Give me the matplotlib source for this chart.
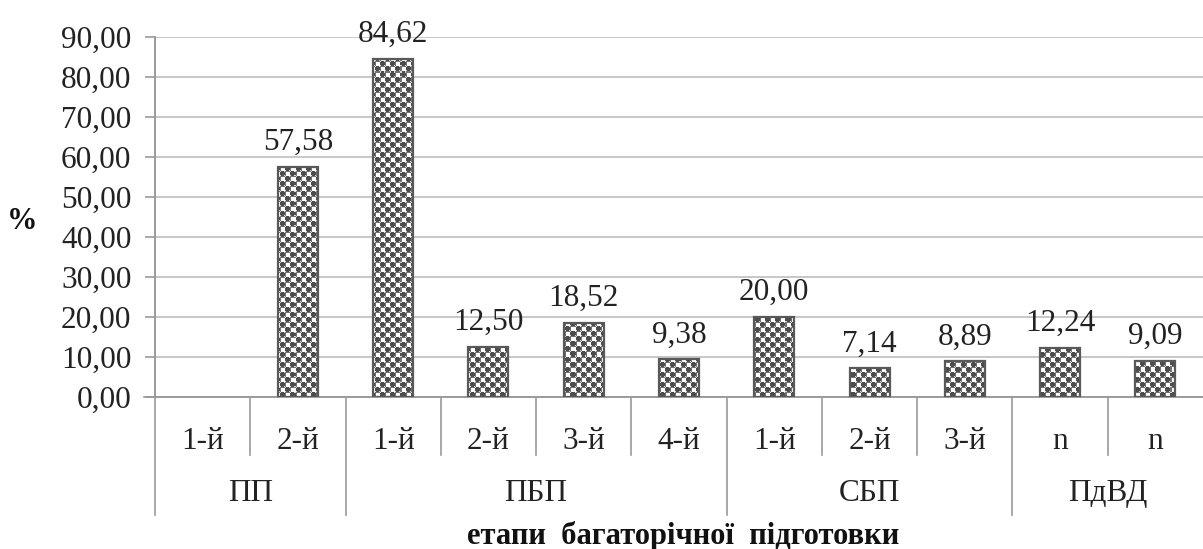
import numpy as np
import matplotlib
matplotlib.use("Agg")
import matplotlib.pyplot as plt
from matplotlib.transforms import blended_transform_factory

# Data
groups = ["ПП", "ПБП", "СБП", "ПдВД"]
group_sizes = [2, 4, 3, 2]
stages = ["1-й", "2-й", "1-й", "2-й", "3-й", "4-й", "1-й", "2-й", "3-й", "n", "n"]
values = [0.00, 57.58, 84.62, 12.50, 18.52, 9.38, 20.00, 7.14, 8.89, 12.24, 9.09]
yticks = [0, 10, 20, 30, 40, 50, 60, 70, 80, 90]

plt.rcParams["font.family"] = ["Liberation Serif", "DejaVu Serif"]

W, H, DPI = 1203, 549, 100
FS = 22.5
fig = plt.figure(figsize=(W / DPI, H / DPI), dpi=DPI)
ax = fig.add_axes([0.1288, 0.2769, 0.8712, 0.6557])

n = len(values)
x = np.arange(n)
ax.set_xlim(-0.5, n - 0.5)
ax.set_ylim(0, 90)

edge = "#595959"
bars = ax.bar(x, values, width=0.42, facecolor="none", edgecolor=edge,
              linewidth=1.6, zorder=3)
for b, v in zip(bars, values):
    if v == 0:
        b.set_linewidth(0)

# checkerboard-with-dots fill pattern
tile = np.ones((10, 10))
yy, xx = np.mgrid[0:5, 0:5]
dot = ((yy - 2) ** 2 + (xx - 2) ** 2) <= 5
q = np.where(dot, 0.30, 0.85)
box = np.ones((5, 5))
box[0, :] = box[:, 0] = 0.45
tile[:5, :5] = q
tile[5:, 5:] = q
tile[:5, 5:] = box
tile[5:, :5] = box
ax_px_w = int(round(0.8712 * W))
ax_px_h = int(round(0.6557 * H))
pattern = np.tile(tile, (ax_px_h // 10 + 2, ax_px_w // 10 + 2))[:ax_px_h, :ax_px_w]
for b in bars:
    im = ax.imshow(pattern, cmap="gray", vmin=0, vmax=1, interpolation="nearest",
                   extent=(-0.5, n - 0.5, 0, 90), aspect="auto", zorder=2)
    im.set_clip_path(b)

# value labels
for xi, v in zip(x, values):
    if v > 0:
        ax.annotate(f"{v:.2f}".replace(".", ","), (xi, v), xytext=(0, 7),
                    textcoords="offset points", ha="center", va="bottom",
                    fontsize=FS, color="#222222", annotation_clip=False)

# y axis
ax.set_yticks(yticks)
ax.set_yticklabels([f"{t:.2f}".replace(".", ",") for t in yticks], fontsize=FS, color="#222222")
ax.yaxis.grid(True, color="#bdbdbd", linewidth=1.2)
ax.set_axisbelow(True)
ax.tick_params(axis="y", length=7, width=1.2, color="#9a9a9a", pad=10)
ax.tick_params(axis="x", length=0, labelbottom=False)
for s in ["top", "right"]:
    ax.spines[s].set_visible(False)
ax.spines["left"].set_color("#9a9a9a")
ax.spines["left"].set_linewidth(1.4)
ax.spines["bottom"].set_color("#9a9a9a")
ax.spines["bottom"].set_linewidth(1.4)

# multi-level category axis
tr = blended_transform_factory(ax.transData, ax.transAxes)
px = 1.0 / ax_px_h
line_kw = dict(color="#9a9a9a", linewidth=1.2, transform=tr, clip_on=False)
for xi, lab in zip(x, stages):
    ax.text(xi, -45 * px, lab, transform=tr, ha="center", va="center",
            fontsize=FS, color="#222222")
bounds = np.cumsum([0] + group_sizes)
for i in range(1, n):
    if i in bounds:
        continue
    ax.plot([i - 0.5, i - 0.5], [0, -58 * px], **line_kw)
for b in bounds[:-1]:
    ax.plot([b - 0.5, b - 0.5], [0, -118 * px], **line_kw)
ax.plot([-0.5 - 0.12, -0.5], [0, 0], **line_kw)
for g, s0, s1 in zip(groups, bounds[:-1], bounds[1:]):
    ax.text((s0 + s1 - 1) / 2, -97 * px, g, transform=tr, ha="center", va="center",
            fontsize=FS, color="#222222")

fig.text(683 / W, 1 - 536 / H, "етапи  багаторічної  підготовки", ha="center", va="center",
         fontsize=22, fontweight="bold", color="#111111")
fig.text(22 / W, 1 - 221 / H, "%", ha="center", va="center",
         fontsize=22, fontweight="bold", color="#111111")

fig.savefig("out.png", dpi=DPI, facecolor="white")
